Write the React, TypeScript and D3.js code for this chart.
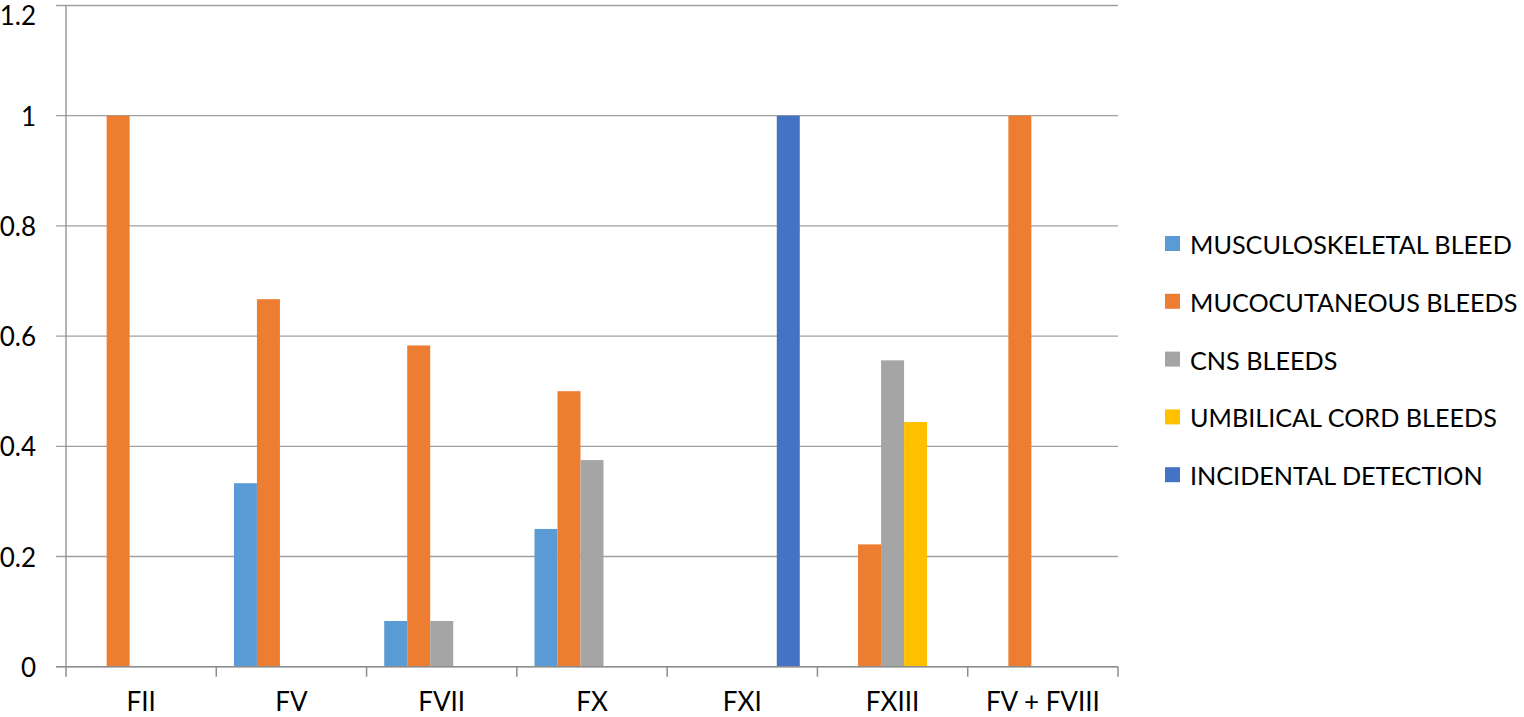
import React from "react";
import * as d3 from "d3";

const categories = ["FII", "FV", "FVII", "FX", "FXI", "FXIII", "FV + FVIII"];
const seriesNames = [
  "MUSCULOSKELETAL BLEED",
  "MUCOCUTANEOUS BLEEDS",
  "CNS BLEEDS",
  "UMBILICAL CORD BLEEDS",
  "INCIDENTAL DETECTION",
];
const seriesColors = ["#5B9BD5", "#ED7D31", "#A5A5A5", "#FFC000", "#4472C4"];
const musculoskeletal = [0, 0.333, 0.083, 0.25, 0, 0, 0];
const mucocutaneous = [1, 0.667, 0.583, 0.5, 0, 0.222, 1];
const cns = [0, 0, 0.083, 0.375, 0, 0.556, 0];
const umbilical = [0, 0, 0, 0, 0, 0.444, 0];
const incidental = [0, 0, 0, 0, 1, 0, 0];
const yTicks = [0, 0.2, 0.4, 0.6, 0.8, 1, 1.2];

const seriesValues = [musculoskeletal, mucocutaneous, cns, umbilical, incidental];

const W = 1524;
const H = 717;
const left = 66;
const right = 1118;
const top = 5.5;
const bottom = 666.7;
const FONT = "Lato, 'Open Sans', sans-serif";

export default function App() {
  const x = d3.scaleBand<string>().domain(categories).range([left, right]).paddingInner(0).paddingOuter(0);
  const y = d3.scaleLinear().domain([0, 1.2]).range([bottom, top]);
  const barW = 23;
  const x1 = d3
    .scaleBand<number>()
    .domain(d3.range(seriesNames.length))
    .range([(x.bandwidth() - barW * 5) / 2, (x.bandwidth() + barW * 5) / 2]);

  const boundaries = categories.map((c) => x(c)!).concat([right]);

  return (
    <svg
      width={W}
      height={H}
      style={{ position: "absolute", left: 0, top: 0, background: "#fff" }}
      fontFamily={FONT}
    >
      {yTicks.map((t) => (
        <g key={t}>
          <line x1={56} x2={right} y1={y(t)} y2={y(t)} stroke="#A0A0A0" strokeWidth={1.3} />
          <text x={36} y={Math.max(y(t), 15)} textAnchor="end" dominantBaseline="central" fontSize={26} fill="#000">
            {String(t)}
          </text>
        </g>
      ))}
      <line x1={left} x2={left} y1={top} y2={bottom} stroke="#8C8C8C" strokeWidth={1.3} />
      {seriesValues.map((vals, si) =>
        vals.map((v, ci) =>
          v > 0 ? (
            <rect
              key={`${si}-${ci}`}
              x={x(categories[ci])! + x1(si)!}
              y={y(v)}
              width={x1.bandwidth()}
              height={y(0) - y(v)}
              fill={seriesColors[si]}
            />
          ) : null
        )
      )}
      <line x1={56} x2={right} y1={bottom} y2={bottom} stroke="#8C8C8C" strokeWidth={1.5} />
      {boundaries.map((b, i) => (
        <line key={i} x1={b} x2={b} y1={bottom} y2={bottom + 10} stroke="#8C8C8C" strokeWidth={1.5} />
      ))}
      {categories.map((c) => (
        <text key={c} x={x(c)! + x.bandwidth() / 2} y={711} textAnchor="middle" fontSize={26} fill="#000">
          {c}
        </text>
      ))}
      {seriesNames.map((s, i) => {
        const cy = 244 + i * 57.8;
        return (
          <g key={s}>
            <rect x={1165} y={cy - 8} width={15} height={15} fill={seriesColors[i]} />
            <text x={1190} y={cy} dominantBaseline="central" fontSize={25.2} fill="#000">
              {s}
            </text>
          </g>
        );
      })}
    </svg>
  );
}
